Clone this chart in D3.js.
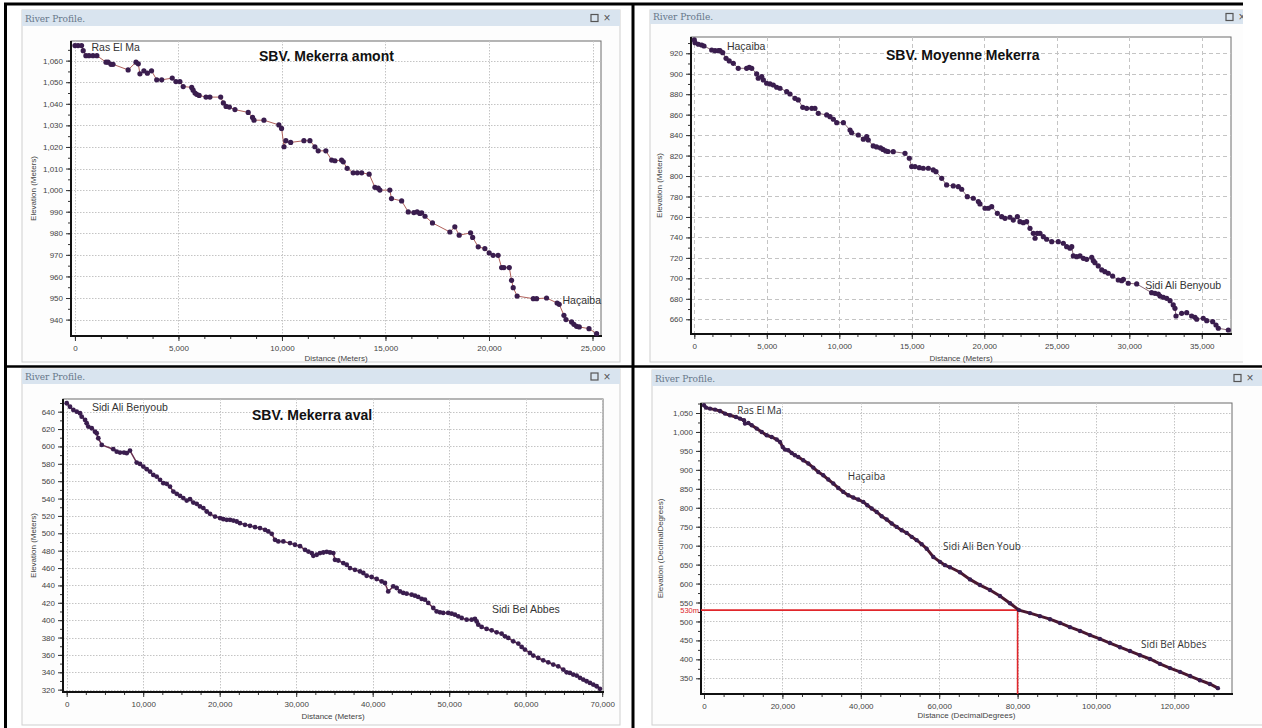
<!DOCTYPE html>
<html>
<head>
<meta charset="utf-8">
<script src="https://cdn.jsdelivr.net/npm/d3@7"></script>
<style>
  body { margin: 0; background: #fff; }
  svg { display: block; font-family: "Liberation Sans", Arial, sans-serif; }
</style>
</head>
<body>
<svg id="chart" width="1262" height="728"></svg>
<script>
const amontProfile = [
  [0,1067],[150,1067],[320,1067],[400,1064.6],[530,1062.3],[680,1062.3],[870,1062.3],[1060,1062.3],
  [1500,1059.3],[1600,1059.3],[1740,1058.3],[1840,1058.3],[2570,1055.7],[2950,1059.3],[3060,1058.5],
  [3140,1053.9],[3330,1055.3],[3500,1054.2],[3700,1055.3],[3950,1051.1],[4190,1051.1],[4700,1051.9],
  [4880,1050.3],[5070,1050.3],[5230,1048],[5640,1047.6],[5710,1046.3],[5800,1045],[5880,1044.4],
  [6000,1043.9],[6330,1043.1],[6520,1043.1],[7040,1043.1],[7170,1040.4],[7300,1038.8],[7460,1038.5],
  [7730,1037.3],[8370,1036],[8580,1033.7],[8650,1032.4],[9130,1032.4],[9850,1030.2],[9980,1028.6],
  [10100,1020.1],[10190,1022.9],[10420,1022.1],[11060,1022.9],[11350,1022.9],[11590,1020.1],
  [11750,1018.2],[12120,1018.2],[12400,1013.9],[12560,1013.6],[12880,1013.9],[12960,1013.1],
  [13150,1010.1],[13440,1008],[13640,1008],[13850,1008],[14210,1007.4],[14490,1001.3],[14650,1000.9],
  [14730,1000],[15210,1000],[15290,996.1],[15780,995],[16100,989.9],[16370,989.6],[16530,989.9],
  [16660,989.2],[16750,989.5],[16910,987.9],[17270,984.8],[18110,980.6],[18350,983],[18560,979.1],
  [19110,980.2],[19210,978.1],[19480,973.7],[19800,972.9],[20010,970.9],[20200,969.8],[20440,969.8],
  [20610,964.1],[20720,964.1],[20980,964.1],[21090,958.2],[21170,954.8],[21360,950.9],[22140,949.7],
  [22300,949.7],[22780,950],[23290,947.7],[23390,947.1],[23620,942],[23720,940],[23990,938.9],
  [24100,937.8],[24230,936.9],[24360,936.6],[24830,935.8],[25200,933.5]
];

const moyenneProfile = [
  [0,933],[50,930.4],[280,928.8],[510,928.1],[670,927.1],[1200,923.2],[1430,922.5],[1660,922.5],
  [1770,922.5],[1960,920.6],[2190,915.1],[2410,912.5],[2690,910.2],[3030,905.3],[3610,905.3],
  [3790,906.3],[3960,905.3],[4300,899.8],[4410,895.6],[4650,897.2],[4760,893.9],[4990,890.7],
  [5220,890],[5450,889],[5680,886.8],[5910,885.8],[6370,882.5],[6600,880.2],[6940,876],[7170,874.4],
  [7480,867.2],[7750,866.2],[8100,866.2],[8320,866.2],[8550,861.3],[9130,859.7],[9360,858],
  [9590,855.5],[9820,852.2],[10280,852.2],[10740,845],[10850,842.4],[11310,840.1],[11660,836],
  [11890,838.5],[12000,835.2],[12340,829.4],[12570,828.5],[12840,827.5],[13010,826],[13200,824.5],
  [13360,824],[13720,823.8],[14530,822.2],[14830,817.4],[14990,809.2],[15220,809.2],[15520,808.2],
  [15790,807.6],[16140,807.6],[16480,806],[16670,804.3],[17060,797.8],[17400,791.3],[17860,790.3],
  [18210,789.6],[18440,787.1],[18830,779.8],[19240,778.3],[19590,775],[19700,772.7],[20050,768.5],
  [20280,768.5],[20510,770.1],[20900,763.6],[21200,760.3],[21430,758.7],[21770,759.7],[22000,757],
  [22280,760.3],[22460,755.4],[22690,754.4],[22920,755.4],[23150,748.9],[23380,744],[23500,739.2],
  [23650,744],[23840,744],[24070,740.7],[24300,738.2],[24650,735.8],[25100,735.8],[25450,734.3],
  [25680,731],[25910,729.4],[26030,731],[26140,721.9],[26370,721.2],[26600,721.9],[26830,719.6],
  [27060,718.6],[27410,720.6],[27520,717.3],[27630,715.3],[27860,712.1],[28100,708.2],[28320,706.5],
  [28550,705],[28850,702.3],[29240,698.4],[29480,697.7],[29590,699.1],[29930,695.2],[30510,694.5],
  [31540,686],[31770,685.4],[32000,684.7],[32120,682.7],[32350,681.5],[32580,680.5],[32810,678.2],
  [33030,674],[33150,670.7],[33220,663.2],[33610,665.8],[33960,666.4],[34300,663.2],[34530,661.9],
  [34650,660],[35100,661],[35340,658.6],[35750,657.6],[35980,654.4],[36140,651.2],[36830,649.5]
];

const avalProfile = [
  [0,649.7],[430,645.7],[870,642],[1310,640],[1740,638.2],[1960,634.3],[2400,630.5],[2610,626.7],
  [2820,622.8],[3270,620.9],[3700,617],[3920,615.2],[4130,609.4],[4580,601.7],[6090,596.8],
  [6540,594],[6970,592.9],[7490,592.9],[7840,592.2],[8270,595.2],[9150,581.4],[9580,579.9],
  [10010,576.8],[10460,573.8],[10890,571],[11320,567.2],[11760,565.3],[12200,561.5],[12630,557.7],
  [13070,556.9],[13500,553.8],[13940,548],[14380,545.4],[14810,543.1],[15240,540.5],[15690,537.7],
  [16120,539.3],[16550,535.4],[16990,533.9],[17420,530.9],[17860,529],[18300,525.1],[18730,522.4],
  [19390,519.3],[20040,517.5],[20470,516.3],[20920,515.5],[21350,515.5],[21780,514.7],[22220,513.6],
  [22650,511.7],[23310,509.8],[23960,508.6],[24620,507.1],[25270,506],[25920,504],[26350,502.1],
  [26800,499.4],[27230,492.5],[27660,490.6],[28320,490.6],[29190,488.7],[29840,486.8],[30500,485.2],
  [31150,481],[31590,479],[32030,477.2],[32240,474.1],[32680,475.3],[33110,477.2],[33550,477.9],
  [33990,478.7],[34420,477.9],[34850,477.2],[35070,469.5],[35500,468.7],[36150,465.7],[36600,463.8],
  [37030,460],[37680,458],[38330,456.1],[38770,454.3],[39210,451.1],[39860,449.7],[40520,447.4],
  [41170,444.6],[41600,442.8],[42030,433.1],[42690,438.9],[43130,437],[43560,433.1],[43990,431.3],
  [44440,430.5],[45090,429.3],[45520,428.2],[45950,426.7],[46400,424.4],[46830,423.6],[47260,419.8],
  [47920,414],[48360,410.1],[48790,409],[49220,408.3],[49870,408.3],[50320,407.5],[50750,406.3],
  [51180,404.4],[51630,402.5],[52280,400.6],[52930,400.6],[53370,401.4],[53590,398.6],[53800,394.8],
  [54240,392.2],[54890,389.9],[55550,388.3],[56200,386],[56850,384.5],[57290,381.4],[57720,379.5],
  [58370,375.6],[59030,373],[59470,369.2],[59900,366.1],[60550,362.3],[60990,359.2],[61640,356.5],
  [62290,353.8],[62950,351.5],[63600,348.9],[64250,346.9],[64910,343.1],[65350,340],[65780,339.3],
  [66210,337.4],[66660,336.2],[67090,333.6],[67520,331.6],[67960,329.7],[68400,327.8],[68830,325.9],
  [69270,323.9],[69700,321]
];

const globalProfile = [
  [0,1070.3],[510,1064.2],[1530,1061.6],[2810,1059],[4080,1055.3],[5360,1048.4],[6630,1044],
  [8160,1039.5],[9180,1035.2],[10200,1030.8],[10460,1022],[11310,1023.6],[12170,1017.6],
  [13440,1008.9],[14720,999.9],[15990,991.2],[17270,986.7],[18550,979.9],[19390,973.6],
  [20080,960.4],[20660,953.5],[21500,951.7],[22370,944.6],[23210,938.5],[24060,934],[25330,925.3],
  [26610,916.6],[27880,906],[29160,894.5],[30430,885.8],[31710,874.5],[32990,863.9],[34260,852.3],
  [35540,841.8],[36810,833.1],[38090,827],[39360,821.7],[40640,815.4],[41660,806.7],[42780,798],
  [44060,789],[45330,777.7],[46610,769],[47880,758.5],[49160,749.5],[50430,740.8],[51710,733.7],
  [52990,723.2],[54260,714.5],[55540,704],[56810,692],[58500,670],[60200,657.3],[61480,648.6],
  [62750,643],[65300,630],[67860,611],[70400,596],[72960,583],[75500,567],[78060,548],[80360,530],
  [83170,522],[85700,514],[88270,506],[90820,496],[93370,485],[95920,475],[98470,464],[101000,454],
  [103570,443],[106120,432],[108670,422],[111200,411],[113770,401],[116330,388],[118880,377],
  [121430,367],[124000,356],[126500,345],[129060,335],[131100,324]
];

// Axis ticks of each window
const amontXTicks = [0, 5000, 10000, 15000, 20000, 25000];
const amontYTicks = [940, 950, 960, 970, 980, 990, 1000, 1010, 1020, 1030, 1040, 1050, 1060];
const moyenneXTicks = [0, 5000, 10000, 15000, 20000, 25000, 30000, 35000];
const moyenneYTicks = [660, 680, 700, 720, 740, 760, 780, 800, 820, 840, 860, 880, 900, 920];
const avalXTicks = [0, 10000, 20000, 30000, 40000, 50000, 60000, 70000];
const avalYTicks = [320, 340, 360, 380, 400, 420, 440, 460, 480, 500, 520, 540, 560, 580, 600, 620, 640];
const globalXTicks = [0, 20000, 40000, 60000, 80000, 100000, 120000];
const globalYTicks = [350, 400, 450, 500, 550, 600, 650, 700, 750, 800, 850, 900, 950, 1000, 1050];

// Red reference cross on the whole-river profile
const refDistance = 80000;
const refElevation = 530;
const refLabel = "530m";

const svg = d3.select("#chart");
const fmt = d3.format(",");

// table frame (the four screenshots sit in a Word table)
function tableLines() {
  const t = svg.append("g").attr("stroke", "#000");
  t.append("line").attr("x1", 4).attr("x2", 1243).attr("y1", 4).attr("y2", 4).attr("stroke-width", 3);
  t.append("line").attr("x1", 5.5).attr("x2", 5.5).attr("y1", 3).attr("y2", 728).attr("stroke-width", 3);
  t.append("line").attr("x1", 633).attr("x2", 633).attr("y1", 3).attr("y2", 728).attr("stroke-width", 3);
  t.append("line").attr("x1", 4).attr("x2", 1262).attr("y1", 366.5).attr("y2", 366.5).attr("stroke-width", 2.5);
}

function drawPanel(p) {
  const g = svg.append("g");
  if (p.clip) {
    const id = "clip" + p.id;
    svg.append("clipPath").attr("id", id).append("rect")
      .attr("x", p.clip[0]).attr("y", p.clip[1]).attr("width", p.clip[2]).attr("height", p.clip[3]);
    g.attr("clip-path", `url(#${id})`);
  }

  // window body + title bar
  const [wx, wy, ww, wh] = p.win;
  g.append("rect").attr("x", wx).attr("y", wy).attr("width", ww).attr("height", wh)
    .attr("fill", "#fdfdfd").attr("stroke", "#cfcfcf");
  g.append("rect").attr("x", wx).attr("y", wy).attr("width", ww).attr("height", p.bar)
    .attr("fill", "#d9e4ef");
  g.append("text").attr("x", wx + 3).attr("y", wy + p.bar - 4)
    .style("font-size", "9px").style("fill", "#66778a")
    .style("font-family", "'DejaVu Serif', serif")
    .text("River Profile.");
  g.append("rect").attr("x", p.ctrl - 4).attr("y", wy + p.bar / 2 - 3.5).attr("width", 7).attr("height", 7)
    .attr("fill", "none").attr("stroke", "#555").attr("stroke-width", 1.2);
  g.append("text").attr("x", p.ctrl + 12).attr("y", wy + p.bar / 2 + 4)
    .attr("text-anchor", "middle").style("font-size", "12px").style("fill", "#555").text("×");

  const [l, t, r, b] = p.plot;
  const x = d3.scaleLinear().domain(p.xDomain).range([l, r]);
  const y = d3.scaleLinear().domain(p.yDomain).range([b, t]);

  g.append("rect").attr("x", l).attr("y", t).attr("width", r - l).attr("height", b - t)
    .attr("fill", "#fff").attr("stroke", "#6d6d6d").attr("stroke-width", 1);

  // grid lines
  const dash = p.dashed ? "4,3" : "1.5,1.5";
  g.append("g").selectAll("line").data(p.yTicks).join("line")
    .attr("x1", l).attr("x2", r)
    .attr("y1", d => Math.round(y(d)) + 0.5).attr("y2", d => Math.round(y(d)) + 0.5)
    .attr("stroke", "#c4c4c4").attr("stroke-dasharray", dash);
  g.append("g").selectAll("line").data(p.xTicks).join("line")
    .attr("x1", d => Math.round(x(d)) + 0.5).attr("x2", d => Math.round(x(d)) + 0.5)
    .attr("y1", t).attr("y2", b)
    .attr("stroke", "#c4c4c4").attr("stroke-dasharray", dash);

  // axes
  const minorX = d3.range(p.xTicks[0], p.xDomain[1], (p.xTicks[1] - p.xTicks[0]) / 4);
  const minorY = d3.range(p.yTicks[0], p.yDomain[1], (p.yTicks[1] - p.yTicks[0]) / 2);
  const xAxis = g.append("g").attr("transform", `translate(0,${b})`)
    .call(d3.axisBottom(x).tickValues(p.xTicks).tickFormat(fmt).tickSize(5).tickPadding(4));
  g.append("g").attr("transform", `translate(0,${b})`)
    .call(d3.axisBottom(x).tickValues(minorX).tickFormat("").tickSize(3));
  const yAxis = g.append("g").attr("transform", `translate(${l},0)`)
    .call(d3.axisLeft(y).tickValues(p.yTicks).tickFormat(fmt).tickSize(5).tickPadding(3));
  g.append("g").attr("transform", `translate(${l},0)`)
    .call(d3.axisLeft(y).tickValues(minorY).tickFormat("").tickSize(3));
  g.selectAll(".domain").remove();
  g.selectAll(".tick line").attr("stroke", "#333");
  g.selectAll(".tick text").style("font-size", "8px").style("fill", "#444")
    .style("font-family", "'Liberation Sans', Arial, sans-serif");

  g.append("line").attr("x1", l).attr("x2", r + 1).attr("y1", b).attr("y2", b)
    .attr("stroke", "#111").attr("stroke-width", 2);
  g.append("line").attr("x1", l).attr("x2", l).attr("y1", t).attr("y2", b + 1)
    .attr("stroke", "#111").attr("stroke-width", 2);

  // axis titles
  g.append("text").attr("x", (l + r) / 2).attr("y", p.xTitleY).attr("text-anchor", "middle")
    .style("font-size", "8px").style("fill", "#444").text(p.xTitle);
  g.append("text").attr("transform", `translate(${p.yTitleX},${(t + b) / 2}) rotate(-90)`)
    .attr("text-anchor", "middle").style("font-size", "8px").style("fill", "#444").text(p.yTitle);

  // reference cross (only on the whole river)
  if (p.ref) {
    g.append("line").attr("x1", l).attr("x2", x(p.ref.d)).attr("y1", y(p.ref.e)).attr("y2", y(p.ref.e))
      .attr("stroke", "#e0262b").attr("stroke-width", 1.6);
    g.append("line").attr("x1", x(p.ref.d)).attr("x2", x(p.ref.d)).attr("y1", y(p.ref.e)).attr("y2", b)
      .attr("stroke", "#e0262b").attr("stroke-width", 1.6);
    g.append("text").attr("x", l - 2).attr("y", y(p.ref.e) + 3).attr("text-anchor", "end")
      .style("font-size", "7.5px").style("fill", "#e0262b").text(p.ref.label);
  }

  // profile line + vertices
  const line = d3.line().x(d => x(d[0])).y(d => y(d[1]));
  g.append("path").datum(p.data).attr("d", line)
    .attr("fill", "none").attr("stroke", p.lineColor).attr("stroke-width", p.lineWidth);
  g.append("g").selectAll("circle").data(p.data).join("circle")
    .attr("cx", d => x(d[0])).attr("cy", d => y(d[1])).attr("r", p.dotR)
    .attr("fill", "#3a1d4e");

  // title + place names
  if (p.title) {
    g.append("text").attr("x", p.title.x).attr("y", p.title.y)
      .style("font-size", "14px").style("font-weight", "bold").style("fill", "#111")
      .text(p.title.text);
  }
  g.append("g").selectAll("text").data(p.places).join("text")
    .attr("x", d => x(d.d)).attr("y", d => y(d.e))
    .style("font-size", p.placeFont[1]).style("font-family", p.placeFont[0]).style("fill", "#333")
    .text(d => d.name);
}

tableLines();

drawPanel({
  id: 1, win: [22, 10, 598, 352], bar: 16, ctrl: 595,
  plot: [71, 41, 601, 336], xDomain: [-190, 25410], yDomain: [932.4, 1069.1],
  xTicks: amontXTicks, yTicks: amontYTicks, dashed: false,
  xTitle: "Distance (Meters)", xTitleY: 361, yTitle: "Elevation (Meters)", yTitleX: 36,
  data: amontProfile, lineColor: "#b0605a", lineWidth: 1, dotR: 2.6,
  title: { text: "SBV. Mekerra amont", x: 259, y: 61 },
  places: [{ name: "Ras El Ma", d: 800, e: 1064.5 }, { name: "Haçaiba", d: 23550, e: 947 }],
  placeFont: ["'Liberation Sans', Arial, sans-serif", "10.5px"]
});

drawPanel({
  id: 2, win: [650, 10, 600, 352], bar: 14, ctrl: 1230, clip: [640, 0, 603, 366],
  plot: [691, 37, 1231, 334], xDomain: [-228, 37014], yDomain: [645.6, 935.9],
  xTicks: moyenneXTicks, yTicks: moyenneYTicks, dashed: true,
  xTitle: "Distance (Meters)", xTitleY: 361, yTitle: "Elevation (Meters)", yTitleX: 662,
  data: moyenneProfile, lineColor: "#8a6a78", lineWidth: 1, dotR: 2.6,
  title: { text: "SBV. Moyenne Mekerra", x: 886, y: 60 },
  places: [{ name: "Haçaiba", d: 2250, e: 923.5 }, { name: "Sidi Ali Benyoub", d: 31100, e: 690 }],
  placeFont: ["'Liberation Sans', Arial, sans-serif", "10.5px"]
});

drawPanel({
  id: 3, win: [22, 369, 598, 356], bar: 15, ctrl: 595,
  plot: [63, 399, 603, 692], xDomain: [-484, 70105], yDomain: [317.3, 654.6],
  xTicks: avalXTicks, yTicks: avalYTicks, dashed: false,
  xTitle: "Distance (Meters)", xTitleY: 719, yTitle: "Elevation (Meters)", yTitleX: 36,
  data: avalProfile, lineColor: "#6a3050", lineWidth: 1.5, dotR: 2.4,
  title: { text: "SBV. Mekerra aval", x: 252, y: 420 },
  places: [{ name: "Sidi Ali Benyoub", d: 3300, e: 641 }, { name: "Sidi Bel Abbes", d: 55600, e: 408 }],
  placeFont: ["'Liberation Sans', Arial, sans-serif", "10.5px"]
});

drawPanel({
  id: 4, win: [652, 370, 612, 355], bar: 16, ctrl: 1238,
  plot: [701, 403, 1232, 694], xDomain: [-765, 134700], yDomain: [308.6, 1076.4],
  xTicks: globalXTicks, yTicks: globalYTicks, dashed: false,
  xTitle: "Distance (DecimalDegrees)", xTitleY: 718, yTitle: "Elevation (DecimalDegrees)", yTitleX: 663,
  data: globalProfile, lineColor: "#4a1830", lineWidth: 3, dotR: 2.2,
  ref: { d: refDistance, e: refElevation, label: refLabel },
  places: [
    { name: "Ras El Ma", d: 8500, e: 1047 },
    { name: "Haçaiba", d: 36700, e: 874 },
    { name: "Sidi Ali Ben Youb", d: 61000, e: 688 },
    { name: "Sidi Bel Abbes", d: 111500, e: 430 }
  ],
  placeFont: ["'Open Sans', sans-serif", "10px"]
});
</script>
</body>
</html>
